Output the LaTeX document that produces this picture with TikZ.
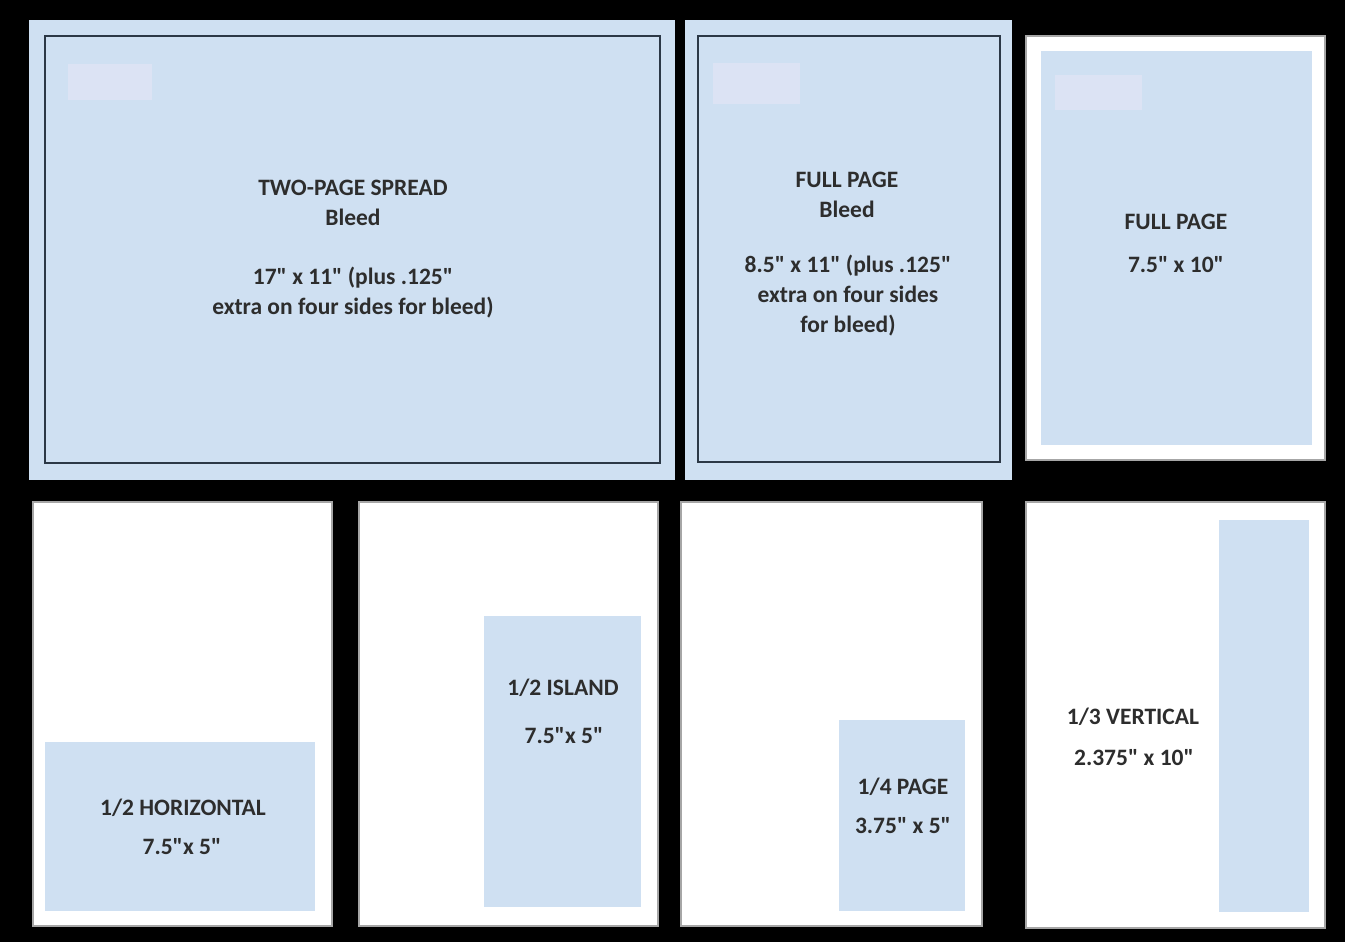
\documentclass[tikz,border=0pt]{standalone}
\usepackage{fontspec}
\setmainfont{Carlito}[Ligatures=TeXOff]
\usepackage{tikz}
\usetikzlibrary{positioning}
\definecolor{adblue}{RGB}{207,224,242}
\definecolor{adghost}{RGB}{220,227,244}
\definecolor{adrule}{RGB}{44,56,70}
\definecolor{adtext}{RGB}{45,45,45}
\tikzset{
  sheet/.style={fill=white, draw=gray!70, line width=1.5pt},
  bleed/.style={fill=adblue},
  trim/.style={draw=adrule, line width=2pt},
  area/.style={fill=adblue},
  ghost/.style={fill=adghost},
  lbl/.style={font=\bfseries\fontsize{23.5}{30}\selectfont, text=adtext, align=center,
              inner sep=0pt}
}

\begin{document}
\begin{tikzpicture}[x=1pt, y=-1pt]
        \fill[black] (0,0) rectangle (1345,942);
        % top row: bleed pages and full page
        \fill[bleed] (29,20) rectangle (675,480);
        \draw[trim] (45,36) rectangle (660,463);
        \fill[ghost] (68,64) rectangle (152,100);
        \fill[bleed] (685,20) rectangle (1012,480);
        \draw[trim] (698,36) rectangle (1000,462);
        \fill[ghost] (713,63) rectangle (800,104);
        \draw[sheet] (1026,36) rectangle (1325,460);
        \fill[area] (1041,51) rectangle (1312,445);
        \fill[ghost] (1055,75) rectangle (1142,110);
        % bottom row: fractional ads
        \draw[sheet] (33,502) rectangle (332,926);
        \fill[area] (45,742) rectangle (315,911);
        \draw[sheet] (359,502) rectangle (658,926);
        \fill[area] (484,616) rectangle (641,907);
        \draw[sheet] (681,502) rectangle (982,926);
        \fill[area] (839,720) rectangle (965,911);
        \draw[sheet] (1026,502) rectangle (1325,928);
        \fill[area] (1219,520) rectangle (1309,912);
        % labels
        \node[lbl] (spreadT) at (353,203) {TWO-PAGE SPREAD\\Bleed};
        \node[lbl] (spreadS) at (353,293) {17" x 11" (plus .125"\\extra on four sides for bleed)};
        \node[lbl] (bleedT) at (847,195) {FULL PAGE\\Bleed};
        \node[lbl] (bleedS) at (848,296) {8.5" x 11" (plus .125"\\extra on four sides\\for bleed)};
        \node[lbl] (fullT) at (1176,222) {FULL PAGE};
        \node[lbl, below=43pt of fullT.center, anchor=center] (fullS) {7.5" x 10"};
        \node[lbl] (horzT) at (183,808) {1/2 HORIZONTAL};
        \node[lbl] (horzS) at (182,847) {7.5"x 5"};
        \node[lbl] (islandT) at (563,688) {1/2 ISLAND};
        \node[lbl] (islandS) at (564,736) {7.5"x 5"};
        \node[lbl] (quartT) at (903,787) {1/4 PAGE};
        \node[lbl] (quartS) at (903,826) {3.75" x 5"};
        \node[lbl] (vertT) at (1133,717) {1/3 VERTICAL};
        \node[lbl] (vertS) at (1134,758) {2.375" x 10"};
\end{tikzpicture}
\end{document}
